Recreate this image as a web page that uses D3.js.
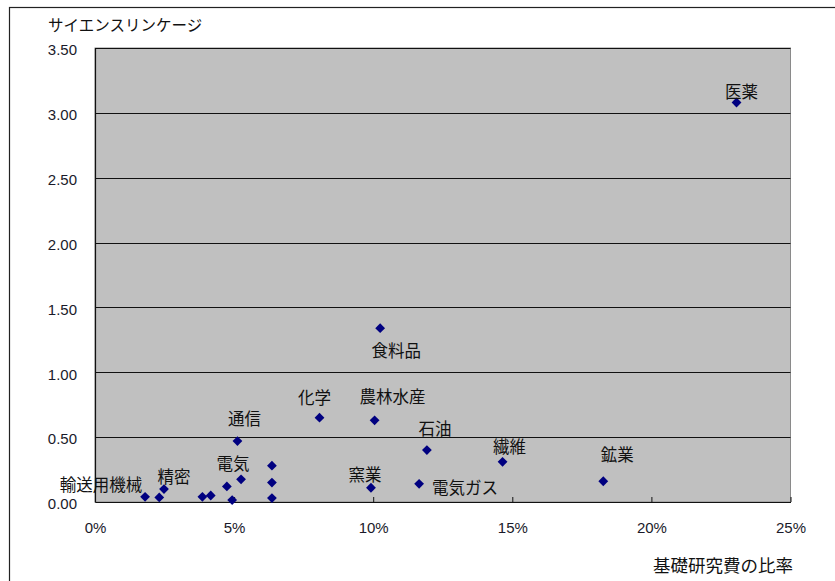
<!DOCTYPE html>
<html><head><meta charset="utf-8">
<script src="https://cdn.jsdelivr.net/npm/d3@7/dist/d3.min.js"></script>
<style>
html,body{margin:0;padding:0;background:#fff;}
svg{display:block;}
</style></head>
<body>
<svg id="chart" width="835" height="581"></svg>
<script>
// ---- data ----
const industries = ["医薬","食料品","化学","農林水産","通信","石油","繊維","鉱業","電気ガス","窯業","電気","精密","輸送用機械","","","","","","","",""];
const basicResearchShare = [0.2306,0.1025,0.0807,0.1005,0.0512,0.1193,0.1465,0.1827,0.1165,0.0992,0.0525,0.0248,0.0180,0.0636,0.0636,0.0636,0.0474,0.0493,0.0386,0.0416,0.0231];
const scienceLinkage = [3.08,1.34,0.65,0.63,0.47,0.40,0.31,0.16,0.14,0.11,0.175,0.10,0.04,0.28,0.15,0.03,0.12,0.015,0.04,0.05,0.035];
const xTicks = [0,0.05,0.10,0.15,0.20,0.25];
const yTicks = [0,0.5,1.0,1.5,2.0,2.5,3.0,3.5];
const yTitle = "サイエンスリンケージ";
const xTitle = "基礎研究費の比率";

// ---- layout (label placement offsets in px, per labelled point) ----
const labelOffsets = [[5,-11],[16,22],[-5,-21],[18,-24],[7,-23],[8,-22],[7,-16],[14,-27],[46,3],[-6,-14],[-8,-16],[10,-13],[-44,-13]];

const svg = d3.select("#chart");
const L = 95, R = 790.5, T = 48, B = 502;
const x = d3.scaleLinear().domain([0,0.25]).range([L,R]);
const y = d3.scaleLinear().domain([0,3.5]).range([B,T]);
const jp = "'Noto Sans CJK JP','Noto Sans',sans-serif";
const num = "'Liberation Sans',Arial,sans-serif";

// outer frame
svg.append("rect").attr("x",9.5).attr("y",7.5).attr("width",900).attr("height",700)
  .attr("fill","none").attr("stroke","#222").attr("stroke-width",1.2);

// plot area
svg.append("rect").attr("x",L).attr("y",T).attr("width",R-L).attr("height",B-T)
  .attr("fill","#c0c0c0").attr("stroke","#8a8a8a").attr("stroke-width",1);

// gridlines
svg.append("g").selectAll("line").data(yTicks.filter(d=>d>0)).join("line")
  .attr("x1",L).attr("x2",R).attr("y1",d=>Math.round(y(d))+0.5).attr("y2",d=>Math.round(y(d))+0.5)
  .attr("stroke","#111").attr("stroke-width",1.2);

// y axis
const yAxis = svg.append("g").attr("transform",`translate(${L},0)`)
  .call(d3.axisLeft(y).tickValues(yTicks).tickFormat(d3.format(".2f")).tickSize(0).tickPadding(18));
yAxis.select(".domain").attr("stroke","#111").attr("stroke-width",1.2);
yAxis.selectAll("text").attr("font-family",num).attr("font-size",15).attr("fill","#1a1a2a").attr("dy","0.45em");

// x axis
const xAxis = svg.append("g").attr("transform",`translate(0,${B})`)
  .call(d3.axisBottom(x).tickValues(xTicks).tickFormat(d3.format(".0%")).tickSizeInner(-5).tickSizeOuter(0).tickPadding(20));
xAxis.select(".domain").attr("stroke","#111").attr("stroke-width",1.2);
xAxis.selectAll(".tick line").attr("stroke","#111");
xAxis.selectAll("text").attr("font-family",num).attr("font-size",15).attr("fill","#1a1a2a");

// markers
const pts = industries.map((n,i)=>({name:n, x:basicResearchShare[i], y:scienceLinkage[i]}));
svg.append("g").selectAll("path").data(pts).join("path")
  .attr("d", d3.symbol(d3.symbolSquare, 48))
  .attr("transform", d=>`translate(${x(d.x)},${y(d.y)}) rotate(45)`)
  .attr("fill","#000080");

// data labels
svg.append("g").selectAll("text").data(pts.filter(d=>d.name)).join("text")
  .attr("x",(d,i)=>x(d.x)+labelOffsets[i][0])
  .attr("y",(d,i)=>y(d.y)+labelOffsets[i][1])
  .attr("text-anchor","middle").attr("dominant-baseline","central")
  .attr("font-family",jp).attr("font-size",16.5).attr("fill","#111")
  .text(d=>d.name);

// titles
svg.append("text").attr("x",48).attr("y",24).attr("dominant-baseline","central")
  .attr("font-family",jp).attr("font-size",15.5).attr("fill","#111").text(yTitle);
svg.append("text").attr("x",793).attr("y",564).attr("text-anchor","end").attr("dominant-baseline","central")
  .attr("font-family",jp).attr("font-size",17.5).attr("fill","#111").text(xTitle);
</script>
</body></html>
